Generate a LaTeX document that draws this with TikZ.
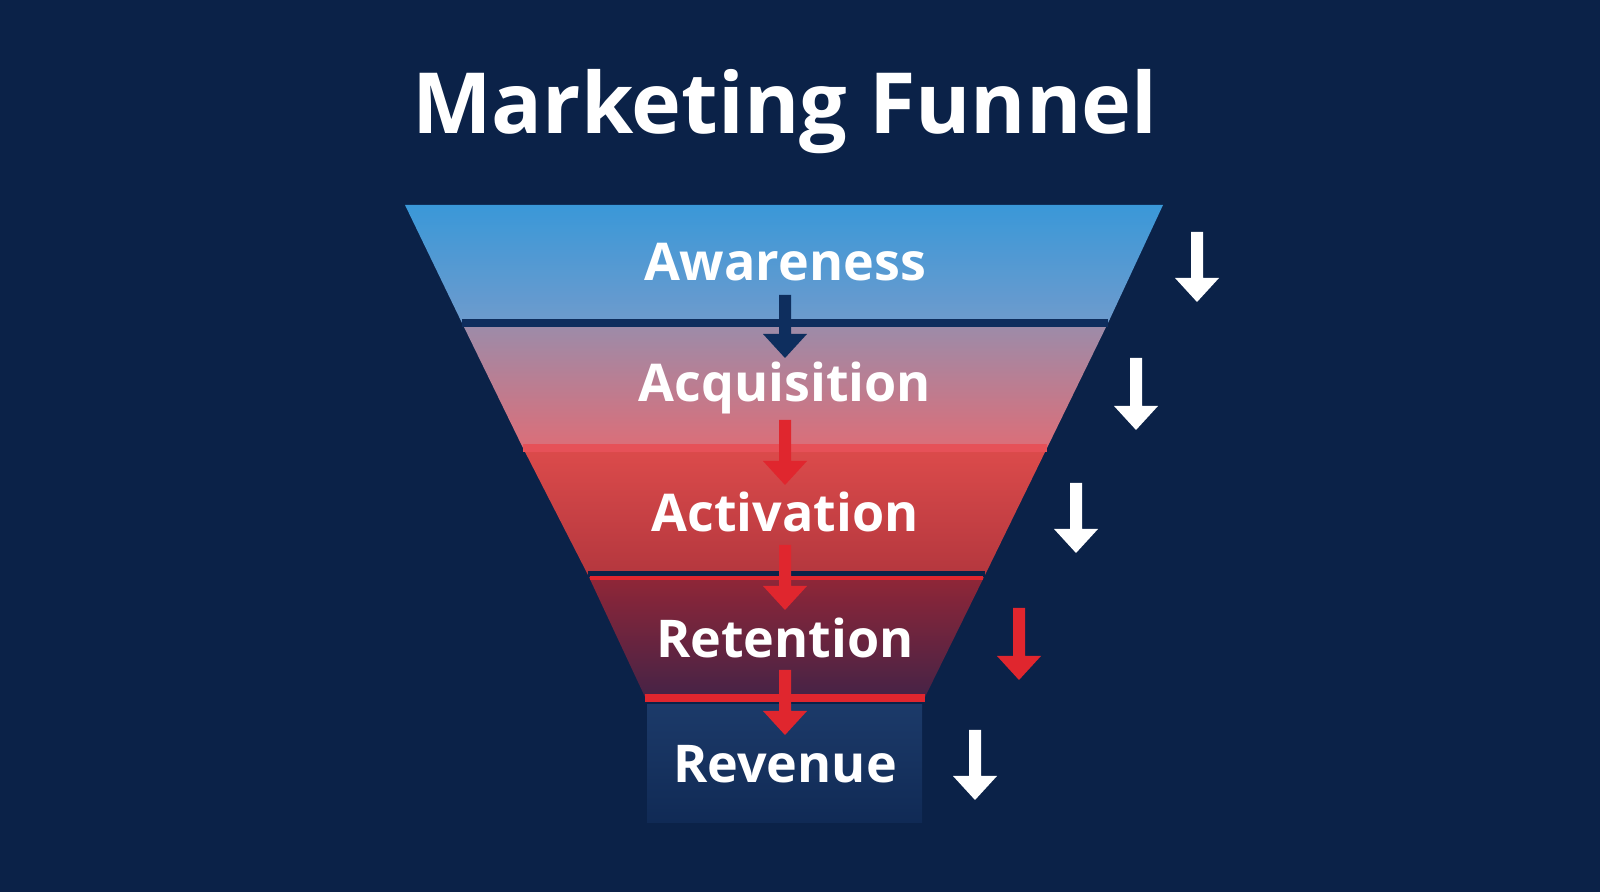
\documentclass[tikz,border=0pt]{standalone}
\usepackage{fontspec}
\setmainfont{Open Sans}
\begin{document}
\begin{tikzpicture}[x=0.01cm,y=-0.01cm,
  lbl/.style={text=white,font=\fontsize{14.8}{17}\selectfont\bfseries,anchor=center},
  ttl/.style={text=white,font=\fontsize{24}{28}\selectfont\bfseries,anchor=center}]
\definecolor{bg}{HTML}{0B2248}
\definecolor{navy}{HTML}{0E2E5E}
\definecolor{ared}{HTML}{E0262E}
\newcommand{\myarrow}[4]{%
  \fill[#4] (#1-6,#2) -- (#1+6,#2) -- (#1+6,#3-24) -- (#1+22,#3-24) -- (#1,#3) -- (#1-22,#3-24) -- (#1-6,#3-24) -- cycle;}
\fill[bg] (0,0) rectangle (1600,892);
\useasboundingbox (0,0) rectangle (1600,892);
\node[ttl] (title) at (785,112) {Marketing Funnel};
% bands
\shade[top color={rgb,255:red,58;green,152;blue,216}, bottom color={rgb,255:red,110;green,155;blue,205}] (405,205) -- (1163,205) -- (1108,323) -- (462,323) -- cycle;
\shade[top color={rgb,255:red,155;green,140;blue,170}, bottom color={rgb,255:red,220;green,110;blue,120}] (462,323) -- (1108,323) -- (1047,448) -- (523,448) -- cycle;
\shade[top color={rgb,255:red,220;green,75;blue,75}, bottom color={rgb,255:red,180;green,55;blue,62}] (523,448) -- (1047,448) -- (985,575) -- (588,575) -- cycle;
\shade[top color={rgb,255:red,145;green,38;blue,55}, bottom color={rgb,255:red,70;green,35;blue,70}] (588,575) -- (985,575) -- (925,697) -- (645,697) -- cycle;
\shade[top color={rgb,255:red,28;green,58;blue,105}, bottom color={rgb,255:red,16;green,42;blue,85}] (647,705) rectangle (922,823);
% separators
\draw[navy,line width=2.5pt] (462,323) -- (1108,323);
\draw[ared!80,line width=2pt] (523,448) -- (1047,448);
\draw[bg,line width=1.5pt] (588,574) -- (985,574);
\draw[ared,line width=1pt] (590,578) -- (983,578);
\draw[ared,line width=2pt] (645,698) -- (925,698);
% labels
\node[lbl] (aw) at (785,262) {Awareness};
\node[lbl] (ac) at (785,388) {Acquisition};
\node[lbl] (at) at (785,512) {Activation};
\node[lbl] (re) at (785,638) {Retention};
\node[lbl] (rv) at (785,764) {Revenue};
% center arrows
\myarrow{785}{295}{358}{navy}
\myarrow{785}{420}{485}{ared}
\myarrow{785}{545}{610}{ared}
\myarrow{785}{670}{735}{ared}
% side arrows
\myarrow{1197}{232}{302}{white}
\myarrow{1136}{358}{430}{white}
\myarrow{1076}{483}{553}{white}
\myarrow{1019}{608}{680}{ared}
\myarrow{975}{730}{800}{white}
\end{tikzpicture}
\end{document}
